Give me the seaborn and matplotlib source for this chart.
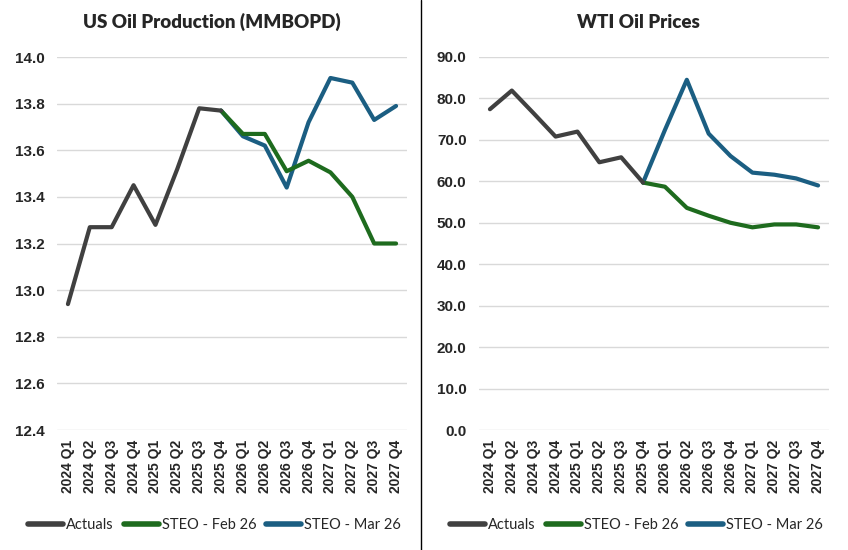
import numpy as np
import pandas as pd
import matplotlib
matplotlib.use('Agg')
import matplotlib.pyplot as plt
import seaborn as sns
from matplotlib.lines import Line2D

sns.set_style('white')
plt.rcParams['font.family'] = ['Liberation Sans', 'DejaVu Sans']

quarters = ['2024 Q1', '2024 Q2', '2024 Q3', '2024 Q4',
            '2025 Q1', '2025 Q2', '2025 Q3', '2025 Q4',
            '2026 Q1', '2026 Q2', '2026 Q3', '2026 Q4',
            '2027 Q1', '2027 Q2', '2027 Q3', '2027 Q4']

# US oil production, MMBOPD (actuals through 2025 Q4, forecasts from 2025 Q4)
prod_actuals = [12.94, 13.27, 13.27, 13.45, 13.28, 13.52, 13.78, 13.77]
prod_feb26 = [13.77, 13.67, 13.67, 13.51, 13.555, 13.505, 13.40, 13.20, 13.20]
prod_mar26 = [13.77, 13.66, 13.62, 13.44, 13.72, 13.91, 13.89, 13.73, 13.79]

# WTI prices, $/bbl
wti_actuals = [77.4, 81.9, 76.4, 70.8, 72.0, 64.6, 65.8, 59.7]
wti_feb26 = [59.7, 58.7, 53.6, 51.7, 50.0, 48.9, 49.6, 49.6, 48.9]
wti_mar26 = [59.7, 72.4, 84.5, 71.5, 66.1, 62.1, 61.6, 60.7, 59.0]

series_names = ['Actuals', 'STEO - Feb 26', 'STEO - Mar 26']
palette = {'Actuals': '#404040', 'STEO - Feb 26': '#1E6B1E', 'STEO - Mar 26': '#1B5E82'}


def make_long(actuals, feb, mar):
    rows = []
    for i, v in enumerate(actuals):
        rows.append((i, v, 'Actuals'))
    start = len(actuals) - 1
    for i, v in enumerate(feb):
        rows.append((start + i, v, 'STEO - Feb 26'))
    for i, v in enumerate(mar):
        rows.append((start + i, v, 'STEO - Mar 26'))
    return pd.DataFrame(rows, columns=['idx', 'value', 'series'])


fig = plt.figure(figsize=(8.48, 5.5), dpi=100)
W, H = 848, 550
ax1 = fig.add_axes([57 / W, (H - 430) / H, 350 / W, 373 / H])
ax2 = fig.add_axes([479 / W, (H - 430) / H, 350 / W, 373 / H])

panels = [
    (ax1, make_long(prod_actuals, prod_feb26, prod_mar26), 'US Oil Production (MMBOPD)',
     np.arange(12.4, 14.01, 0.2), (12.4, 14.0), '{:.1f}', 212),
    (ax2, make_long(wti_actuals, wti_feb26, wti_mar26), 'WTI Oil Prices',
     np.arange(0, 90.1, 10), (0, 90), '{:.1f}', 638),
]

for ax, df, title, yticks, ylim, fmt, tx in panels:
    sns.lineplot(data=df, x='idx', y='value', hue='series', hue_order=series_names[::-1],
                 palette=palette, linewidth=3, ax=ax, legend=False)
    ax.set_xlim(-0.5, len(quarters) - 0.5)
    ax.set_ylim(*ylim)
    ax.set_yticks(yticks)
    ax.set_yticklabels([fmt.format(t) for t in yticks], fontsize=11, fontweight='bold')
    ax.set_xticks(range(len(quarters)))
    ax.set_xticklabels(quarters, rotation=90, fontsize=10, fontweight='bold')
    ax.tick_params(axis='x', length=0, pad=7)
    ax.tick_params(axis='y', length=0, pad=9)
    ax.grid(axis='y', color='#d9d9d9', linewidth=1)
    ax.set_axisbelow(True)
    for s in ax.spines.values():
        s.set_visible(False)
    ax.set_xlabel('')
    ax.set_ylabel('')
    fig.text(tx / W, 1 - 22 / H, title, ha='center', va='center',
             fontsize=13.5, fontweight='heavy', family=['Lato', 'DejaVu Sans'])
    handles = [Line2D([0], [0], color=palette[n], linewidth=4) for n in series_names]
    ax.legend(handles, series_names, loc='center', bbox_to_anchor=(0.45, (430 - 525) / 373),
              ncol=3, frameon=False, handlelength=2.4, handletextpad=0.2, columnspacing=0.7,
              prop={'family': ['Lato', 'DejaVu Sans'], 'size': 10.5})

fig.add_artist(Line2D([421 / W, 421 / W], [0, 1], color='black', linewidth=1))

fig.savefig('out.png', dpi=100)
